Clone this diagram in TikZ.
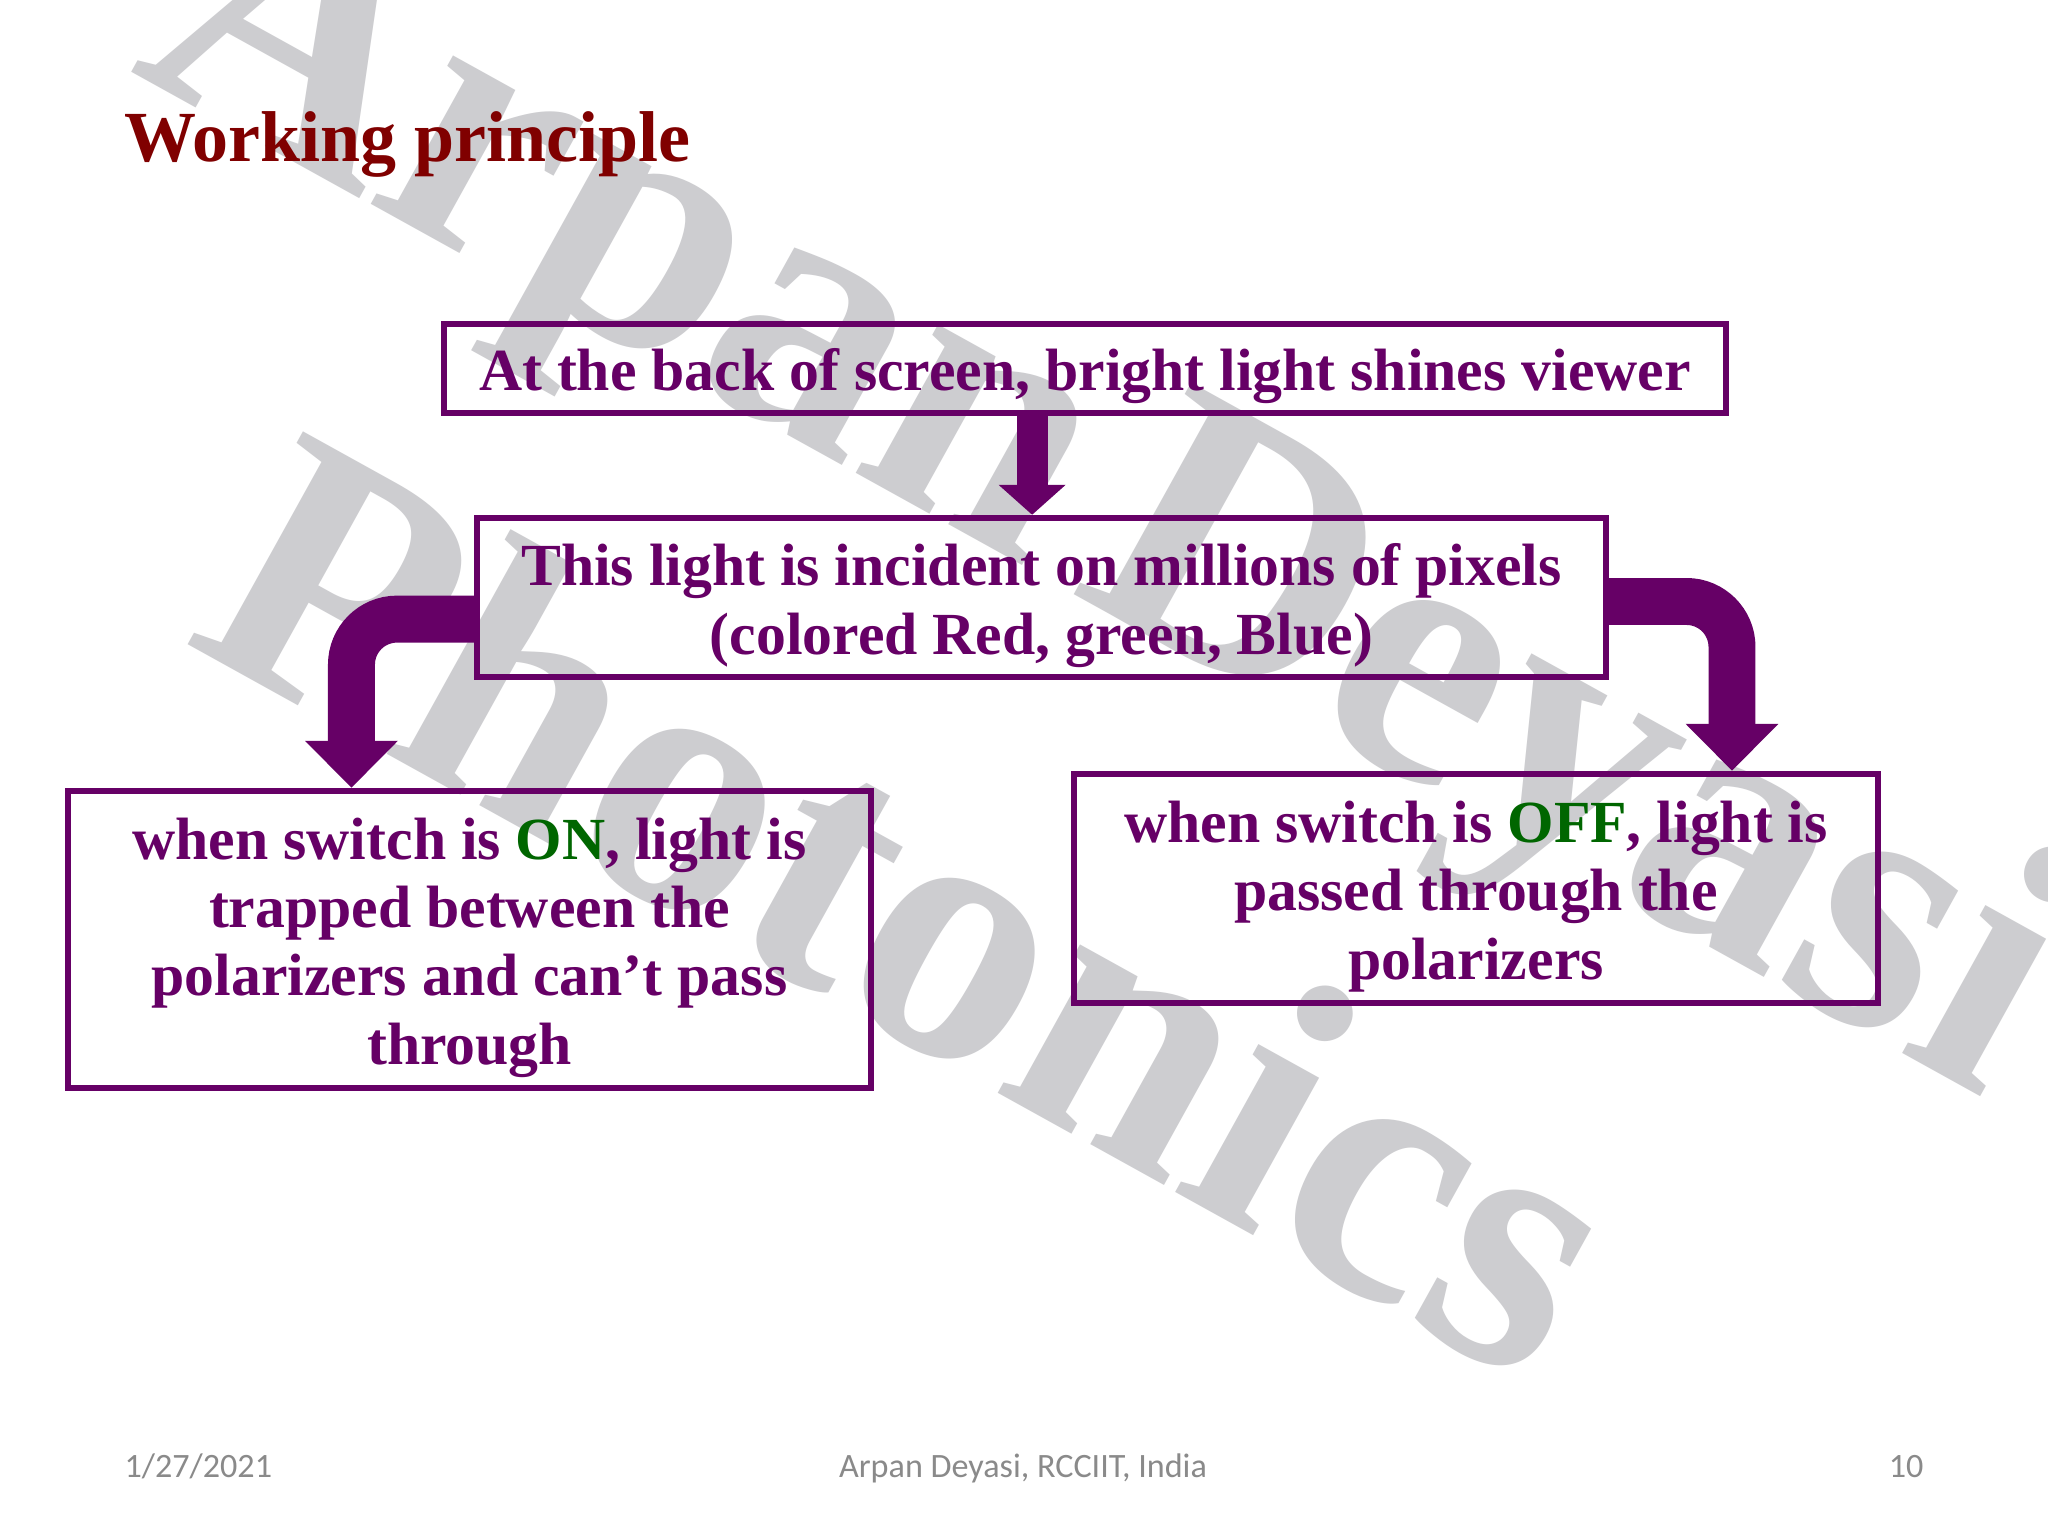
\documentclass[tikz,border=0pt]{standalone}
\usepackage{fontspec}
\setmainfont{Liberation Serif}
\newfontfamily\footfont{Carlito}
\usetikzlibrary{arrows.meta}
\definecolor{boxpurple}{HTML}{660066}
\definecolor{titlered}{HTML}{800000}
\definecolor{ongreen}{HTML}{006600}
\definecolor{markgray}{HTML}{CDCDD0}
\definecolor{footgray}{HTML}{8A8A8A}

\begin{document}
\begin{tikzpicture}[x=0.3515625pt, y=-0.3515625pt,
  stepbox/.style={draw=boxpurple, line width=2.25pt, inner sep=0pt},
  boxtext/.style={text=boxpurple, inner sep=0pt, align=center,
    font=\fontsize{21}{24}\selectfont\bfseries},
  bigarrow/.style={draw=boxpurple, line width=16.5pt, rounded corners=16pt,
    -{Triangle[width=31.6pt,length=16.5pt]}},
  thinarrow/.style={draw=boxpurple, line width=10.9pt,
    -{Triangle[width=22.9pt,length=10.5pt]}},
  marktext/.style={text=markgray, inner sep=0pt, anchor=base west, rotate=-29,
    font=\fontsize{130}{156}\selectfont\bfseries},
  footer/.style={text=footgray, inner sep=0pt, font=\footfont\fontsize{12}{14}\selectfont}]
  \fill[white] (0,0) rectangle (2048,1536);
  \useasboundingbox (0,0) rectangle (2048,1536);

  % watermark
  \begin{scope}
    \clip (0,0) rectangle (2048,1536);
    \node[marktext] (markname) at (128,70) {Arpan\hspace{-0.12em} Deyasi};
    \node[marktext] (markfield) at (180,640) {Photonics};
  \end{scope}

  \node[anchor=base west, inner sep=0pt, text=titlered,
    font=\fontsize{25.3}{30}\selectfont\bfseries] (title) at (124,162) {Working principle};

  % boxes
  \node[stepbox, minimum width=450.7pt, minimum height=31.3pt] (back) at (1085,368.5) {};
  \node[stepbox, minimum width=396.9pt, minimum height=55.9pt] (pixels) at (1041.5,597.5) {};
  \node[stepbox, minimum width=282.3pt, minimum height=104.4pt] (on) at (469.5,939.5) {};
  \node[stepbox, minimum width=282.7pt, minimum height=80.5pt] (off) at (1476,888.5) {};

  \node[boxtext] (backtext) at ([yshift=-2.8pt]back.center)
    {At the back of screen, bright light shines viewer};
  \node[boxtext] (pixelstext) at ([yshift=-2.8pt]pixels.center)
    {This light is incident on millions of pixels\\(colored Red, green, Blue)};
  \node[boxtext] (ontext) at ([yshift=-2.8pt]on.center)
    {when switch is \textcolor{ongreen}{ON}, light is\\trapped between the\\polarizers and can’t pass\\through};
  \node[boxtext] (offtext) at ([yshift=-2.8pt]off.center)
    {when switch is \textcolor{ongreen}{OFF}, light is\\passed through the\\polarizers};

  % arrows
  \draw[thinarrow] ([xshift=-3.3pt]pixels.north |- back.south) -- ([xshift=-3.3pt]pixels.north);
  \draw[bigarrow] ([yshift=-7.6pt]pixels.west) -| ([xshift=-41.5pt]on.north);
  \draw[bigarrow] ([yshift=-1.4pt]pixels.east) -| ([xshift=90pt]off.north);

  % footer
  \node[footer, anchor=base west] (date) at (124,1477) {1/27/2021};
  \node[footer, anchor=base] (author) at (1023,1477) {Arpan Deyasi, RCCIIT, India};
  \node[footer, anchor=base east] (page) at (1924,1477) {10};
\end{tikzpicture}
\end{document}
